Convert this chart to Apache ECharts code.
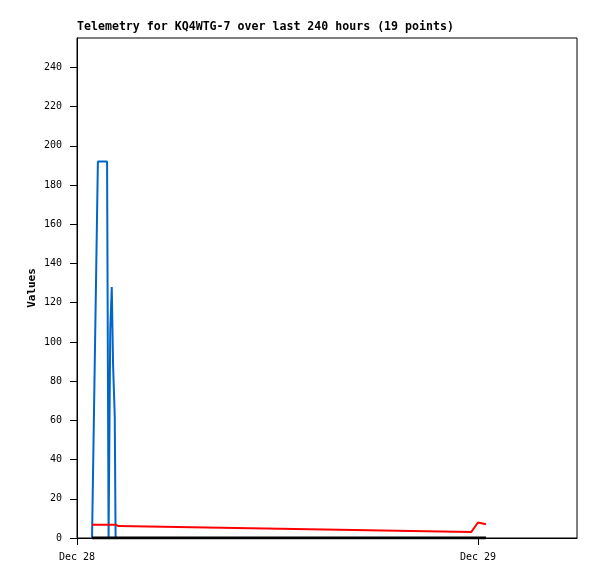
<!DOCTYPE html>
<html>
<head>
<meta charset="utf-8">
<script src="https://cdn.jsdelivr.net/npm/echarts@6/dist/echarts.min.js"></script>
<style>
html,body{margin:0;padding:0;background:#fff;}
#chart{width:597px;height:579px;}
</style>
</head>
<body>
<div id="chart"></div>
<script>
// Hours since Dec 28 00:00
var times = [0.90, 1.25, 1.80, 1.89, 1.99, 2.08, 2.16, 2.26, 2.31, 2.34, 2.40, 2.48, 2.57, 23.59, 24.00, 24.48];
var blueValues = [0, 192, 192, 0, 106, 128, 88, 62, 0, 0, 0, 0, 0, 0, 0, 0];
var redValues = [6.8, 6.8, 6.8, 6.8, 6.8, 6.8, 6.8, 6.8, 6.8, 6.8, 6.1, 6.1, 7.0, 3.0, 7.9, 7.0];
var blackValues = [0, 0, 0, 0, 0, 0, 0, 0, 0, 0, 0, 0, 0, 0, 0, 0];
var xTickValues = [0, 24];
var xTickLabels = ['Dec 28', 'Dec 29'];
var yTickValues = [0, 20, 40, 60, 80, 100, 120, 140, 160, 180, 200, 220, 240];
var titleText = 'Telemetry for KQ4WTG-7 over last 240 hours (19 points)';
var yAxisName = 'Values';

function pairs(vals) {
  return times.map(function (t, i) { return [t, vals[i]]; });
}

var font = 'DejaVu Sans Mono';
var chart = echarts.init(document.getElementById('chart'), null, {renderer: 'canvas'});
chart.setOption({
  animation: false,
  backgroundColor: '#fff',
  title: {
    text: titleText,
    left: 77, top: 21, padding: 0,
    textStyle: {fontFamily: font, fontSize: 11.6, fontWeight: 'bold', color: '#000'}
  },
  grid: {left: 77, top: 38, width: 500, height: 500, show: true, borderColor: '#000', borderWidth: 1, backgroundColor: 'transparent'},
  xAxis: {
    type: 'value', min: 0, max: 500 * 24 / 401,
    axisLine: {show: true, onZero: false, lineStyle: {color: '#000', width: 1}},
    axisTick: {show: true, customValues: xTickValues, length: 7, lineStyle: {color: '#000'}},
    axisLabel: {
      customValues: xTickValues, margin: 14,
      fontFamily: font, fontSize: 10, color: '#000',
      formatter: function (v) { var i = xTickValues.indexOf(v); return i >= 0 ? xTickLabels[i] : ''; }
    },
    splitLine: {show: false}
  },
  yAxis: {
    type: 'value', min: 0, max: 255,
    name: yAxisName, nameLocation: 'middle', nameGap: 39, nameRotate: 90, nameMoveOverlap: false,
    nameTextStyle: {fontFamily: font, fontSize: 11, fontWeight: 'bold', color: '#000'},
    axisLine: {show: true, lineStyle: {color: '#000', width: 1}},
    axisTick: {show: true, customValues: yTickValues, length: 7, lineStyle: {color: '#000'}},
    axisLabel: {customValues: yTickValues, margin: 15, lineHeight: 14, padding: [4, 0, 0, 0], fontFamily: font, fontSize: 10, color: '#000'},
    splitLine: {show: false}
  },
  series: [
    {type: 'line', data: pairs(blueValues), showSymbol: false, z: 2, lineStyle: {color: '#0066CC', width: 2}, itemStyle: {color: '#0066CC'}},
    {type: 'line', data: pairs(redValues), showSymbol: false, z: 3, lineStyle: {color: '#FF0000', width: 2}, itemStyle: {color: '#FF0000'}},
    {type: 'line', data: pairs(blackValues), showSymbol: false, z: 4, lineStyle: {color: '#000000', width: 3}, itemStyle: {color: '#000'}}
  ]
});
</script>
</body>
</html>
